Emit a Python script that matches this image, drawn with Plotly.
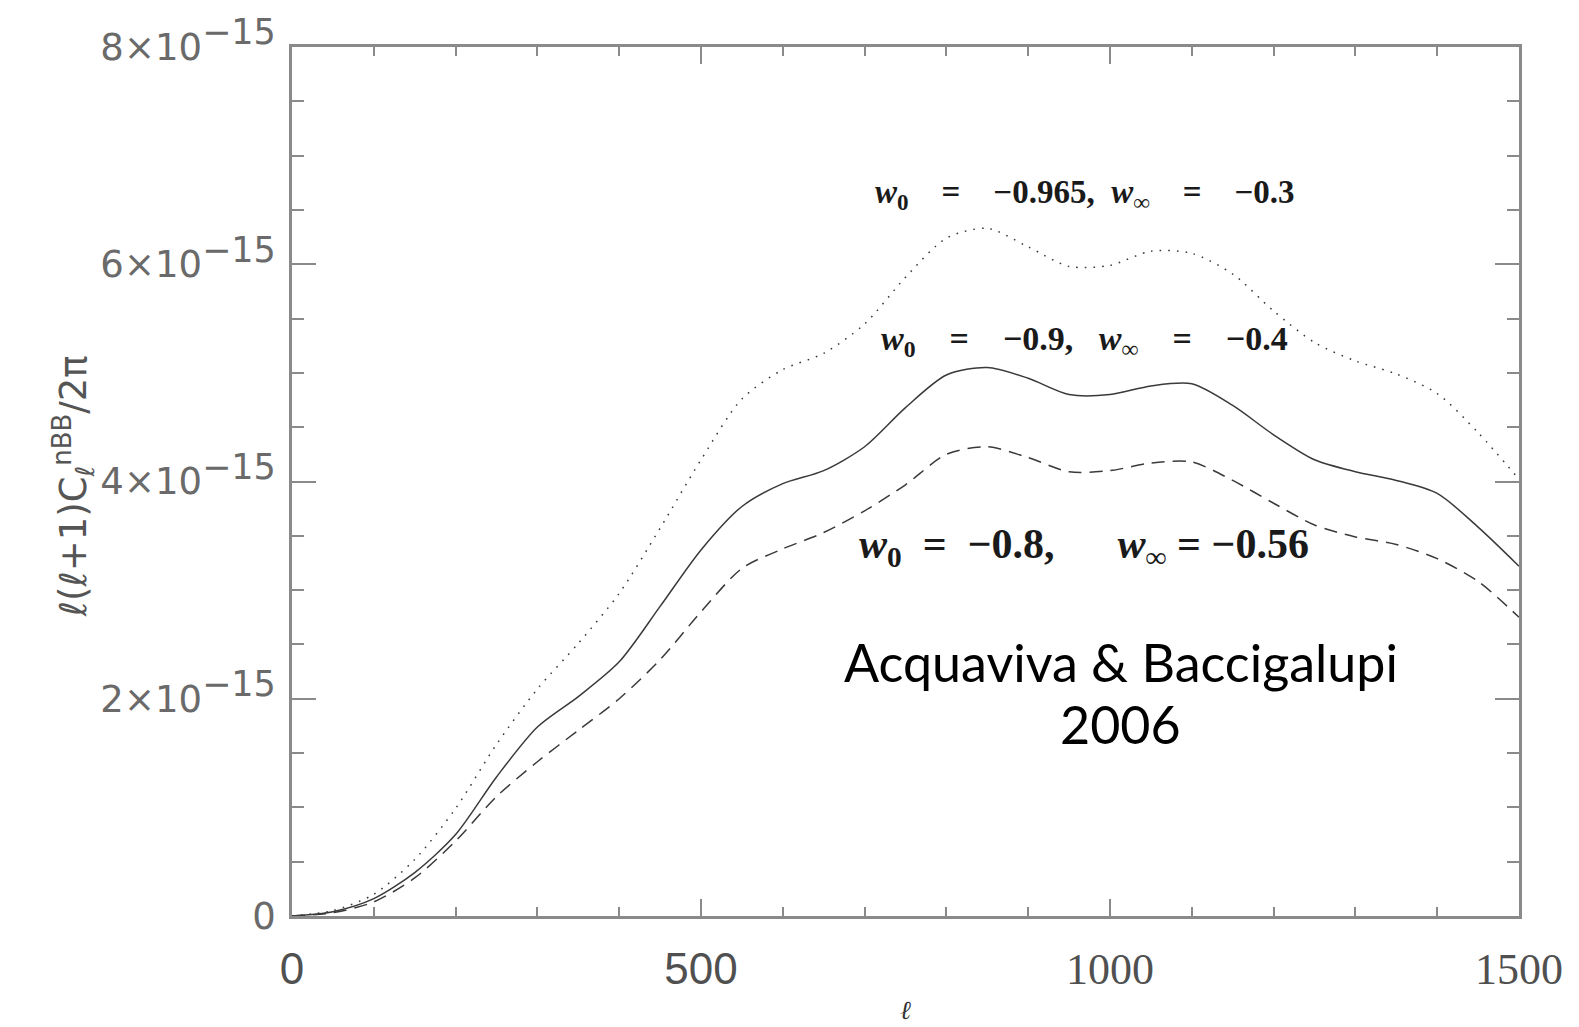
import plotly.graph_objects as go

# Multipole grid
ell = [0, 50, 100, 150, 200, 250, 300, 350, 400, 450, 500, 550, 600, 650, 700, 750,
       800, 850, 900, 950, 1000, 1050, 1100, 1150, 1200, 1250, 1300, 1350, 1400, 1450, 1500]

# l(l+1) C_l^nBB / 2pi in units of 1e-15
solid_w09 = [0, 0.04, 0.16, 0.40, 0.75, 1.28, 1.74, 2.02, 2.34, 2.85, 3.37, 3.77, 3.98, 4.10,
             4.32, 4.68, 4.98, 5.05, 4.95, 4.80, 4.80, 4.88, 4.90, 4.70, 4.43, 4.20, 4.09,
             4.01, 3.89, 3.58, 3.22]
dashed_w08 = [0, 0.03, 0.13, 0.35, 0.69, 1.10, 1.42, 1.71, 2.00, 2.36, 2.80, 3.20, 3.38, 3.53,
              3.73, 3.97, 4.25, 4.32, 4.22, 4.09, 4.10, 4.17, 4.18, 4.01, 3.80, 3.60, 3.49,
              3.42, 3.29, 3.08, 2.75]
dotted_w0965 = [0, 0.05, 0.20, 0.52, 0.99, 1.58, 2.09, 2.51, 2.97, 3.57, 4.20, 4.76, 5.03, 5.18,
                5.45, 5.88, 6.24, 6.33, 6.16, 5.98, 5.99, 6.12, 6.10, 5.91, 5.57, 5.28, 5.11,
                4.99, 4.81, 4.45, 4.02]

SCALE = 1e-15
y_tick_vals = [0, 2, 4, 6, 8]
sup = "<sup><span style='font-size:35px'>−15</span></sup>"
y_tick_text = ["0"] + [f"{v}×10{sup}" for v in y_tick_vals[1:]]
x_tick_vals = [0, 500, 1000, 1500]
serif_tick = "<span style='font-family:Liberation Serif'>{}</span>"
x_tick_text = ["0", "500", serif_tick.format(1000), serif_tick.format(1500)]

line_col = "#3a3a3a"
fig = go.Figure()
for ys, dash in [(dotted_w0965, "1.6px,7px"), (solid_w09, "solid"), (dashed_w08, "13px,8px")]:
    fig.add_trace(go.Scatter(
        x=ell, y=[v * SCALE for v in ys], mode="lines",
        line=dict(color=line_col, width=1.5, dash=dash, shape="spline", smoothing=0.8),
        showlegend=False, hoverinfo="skip"))

axis_col = "#8a8a8a"
fig.update_xaxes(
    range=[0, 1500], showgrid=False, zeroline=False,
    showline=True, linecolor=axis_col, linewidth=2.5, mirror="ticks",
    ticks="inside", ticklen=17, tickwidth=1.5, tickcolor=axis_col,
    tickvals=x_tick_vals, ticktext=x_tick_text,
    tickfont=dict(family="Liberation Sans", size=44, color="#505050"),
    ticklabelstandoff=12,
    minor=dict(dtick=100, ticks="inside", ticklen=9, tickwidth=1.5, tickcolor=axis_col),
)
fig.update_yaxes(
    range=[0, 8 * SCALE], showgrid=False, zeroline=False,
    showline=True, linecolor=axis_col, linewidth=2.5, mirror="ticks",
    ticks="inside", ticklen=24, tickwidth=1.5, tickcolor=axis_col,
    tickvals=[v * SCALE for v in y_tick_vals], ticktext=y_tick_text,
    tickfont=dict(family="DejaVu Sans", size=37, color="#6a6a6a"),
    ticklabelstandoff=6,
    minor=dict(dtick=0.5 * SCALE, ticks="inside", ticklen=12, tickwidth=1.5, tickcolor=axis_col),
)

serif = "Liberation Serif"
sp = "\u00a0"
labels = [
    (f"<i>w</i><sub>0</sub>{sp*4}={sp*4}−0.965,{sp*2}<i>w</i><sub>∞</sub>{sp*4}={sp*4}−0.3", 969, 6.64, 33),
    (f"<i>w</i><sub>0</sub>{sp*4}={sp*4}−0.9,{sp*3}<i>w</i><sub>∞</sub>{sp*4}={sp*4}−0.4", 969, 5.29, 34),
    (f"<i>w</i><sub>0</sub>{sp*2}={sp*2}−0.8,{sp*6}<i>w</i><sub>∞</sub>{sp}={sp}−0.56", 968, 3.40, 42),
]
for text, x, y, size in labels:
    fig.add_annotation(x=x, y=y * SCALE, text="<b>" + text + "</b>", showarrow=False,
                       font=dict(family=serif, size=size, color="#1a1a1a"))

credit = [("Acquaviva & Baccigalupi", 2.34), ("2006", 1.77)]
for text, y in credit:
    fig.add_annotation(x=1013, y=y * SCALE, text=text, showarrow=False,
                       font=dict(family="Lato", size=52, color="#000000"))

fig.add_annotation(xref="paper", yref="paper", x=-0.2013, y=0.494, textangle=-90,
                   text="ℓ(ℓ+1)C<sub>ℓ</sub><sup>nBB</sup>/2π", showarrow=False,
                   font=dict(family="DejaVu Sans", size=37, color="#555"))
fig.add_annotation(xref="paper", yref="paper", x=0.5, y=-0.09, yanchor="top",
                   text="<i>ℓ</i>", showarrow=False,
                   font=dict(family=serif, size=26, color="#333"))

fig.update_layout(
    width=1579, height=1027,
    margin=dict(l=292, r=60, t=45, b=111),
    paper_bgcolor="white", plot_bgcolor="white",
)
fig.write_html("out.html")
